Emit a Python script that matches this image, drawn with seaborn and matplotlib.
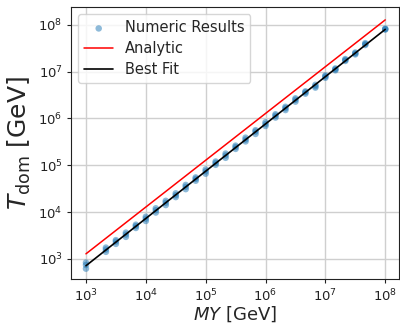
import numpy as np
import pandas as pd
import matplotlib
matplotlib.use("Agg")
import matplotlib.pyplot as plt
import matplotlib.ticker as mticker
import seaborn as sns

# Mass scale M*Y in GeV
MY = [1.000e3, 2.154e3, 3.162e3, 4.642e3, 6.813e3,
      1.000e4, 1.468e4, 2.154e4, 3.162e4, 4.642e4, 6.813e4,
      1.000e5, 1.468e5, 2.154e5, 3.162e5, 4.642e5, 6.813e5,
      1.000e6, 1.468e6, 2.154e6, 3.162e6, 4.642e6, 6.813e6,
      1.000e7, 1.468e7, 2.154e7, 3.162e7, 4.642e7, 1.000e8]

# Numerical T_dom (GeV) from three runs at each MY
T_run_a = [617, 1413, 2089, 2951, 4571,
           6457, 9772, 1.413e4, 2.089e4, 3.090e4, 4.677e4,
           6.607e4, 1.023e5, 1.445e5, 2.239e5, 3.236e5, 4.677e5,
           6.918e5, 1.047e6, 1.514e6, 2.291e6, 3.388e6, 4.571e6,
           7.413e6, 1.072e7, 1.698e7, 2.344e7, 3.715e7, 7.943e7]
T_run_b = [741, 1585, 2344, 3311, 5012,
           7244, 1.096e4, 1.585e4, 2.291e4, 3.467e4, 5.129e4,
           7.413e4, 1.122e5, 1.622e5, 2.455e5, 3.548e5, 5.248e5,
           7.586e5, 1.148e6, 1.660e6, 2.512e6, 3.631e6, 4.898e6,
           7.943e6, 1.122e7, 1.778e7, 2.455e7, 3.890e7, 8.128e7]
T_run_c = [832, 1738, 2512, 3631, 5370,
           7943, 1.202e4, 1.738e4, 2.512e4, 3.802e4, 5.495e4,
           8.128e4, 1.202e5, 1.778e5, 2.630e5, 3.890e5, 5.623e5,
           8.318e5, 1.230e6, 1.778e6, 2.692e6, 3.802e6, 5.248e6,
           8.318e6, 1.175e7, 1.862e7, 2.570e7, 4.074e7, 8.318e7]

# Analytic estimate: T_dom = C * MY
analytic_coeff = 1.28

sns.set_style("ticks", {"axes.grid": True, "grid.color": "#cfcfcf",
                        "axes.edgecolor": "#222222"})
plt.rcParams["font.family"] = ["DejaVu Sans"]
plt.rcParams["mathtext.fontset"] = "dejavusans"

numeric = pd.DataFrame({
    "MY": MY * 3,
    "T": T_run_a + T_run_b + T_run_c,
})

# Power-law fit in log space
slope, intercept = np.polyfit(np.log10(numeric["MY"]), np.log10(numeric["T"]), 1)
lines = pd.DataFrame({
    "MY": MY,
    "analytic": [analytic_coeff * m for m in MY],
    "fit": [10 ** intercept * m ** slope for m in MY],
})

fig = plt.figure(figsize=(4.0, 3.24), dpi=100)
ax = fig.add_axes([0.1775, 0.139, 0.82, 0.839])

sns.scatterplot(data=numeric, x="MY", y="T", ax=ax, color="#1f77b4", alpha=0.5,
                s=22, edgecolor="none", label="Numeric Results", zorder=3)
sns.lineplot(data=lines, x="MY", y="analytic", ax=ax, color="red", lw=1.1,
             label="Analytic", zorder=2)
sns.lineplot(data=lines, x="MY", y="fit", ax=ax, color="black", lw=1.2,
             label="Best Fit", zorder=4)

ax.set_xscale("log")
ax.set_yscale("log")
ax.set_xlim(10 ** 2.75, 10 ** 8.23)
ax.set_ylim(10 ** 2.57, 10 ** 8.38)
ax.xaxis.set_major_locator(mticker.LogLocator(base=10, numticks=10))
ax.yaxis.set_major_locator(mticker.LogLocator(base=10, numticks=10))
ax.xaxis.set_minor_locator(mticker.NullLocator())
ax.yaxis.set_minor_locator(mticker.NullLocator())
ax.tick_params(axis="both", labelsize=9.5, length=3, width=0.8, pad=3,
               colors="#222222")
ax.grid(True, which="major", color="#cfcfcf", lw=1.0)

ax.set_xlabel("$MY$ [GeV]", fontsize=13, labelpad=0.5)
ax.set_ylabel(r"$T_{\rm dom}$ [GeV]", fontsize=18, labelpad=4)

ax.legend(loc="upper left", fontsize=10.5, frameon=True, framealpha=0.8,
          handlelength=2.0, borderpad=0.4, labelspacing=0.4)

fig.savefig("out.png", dpi=100)
